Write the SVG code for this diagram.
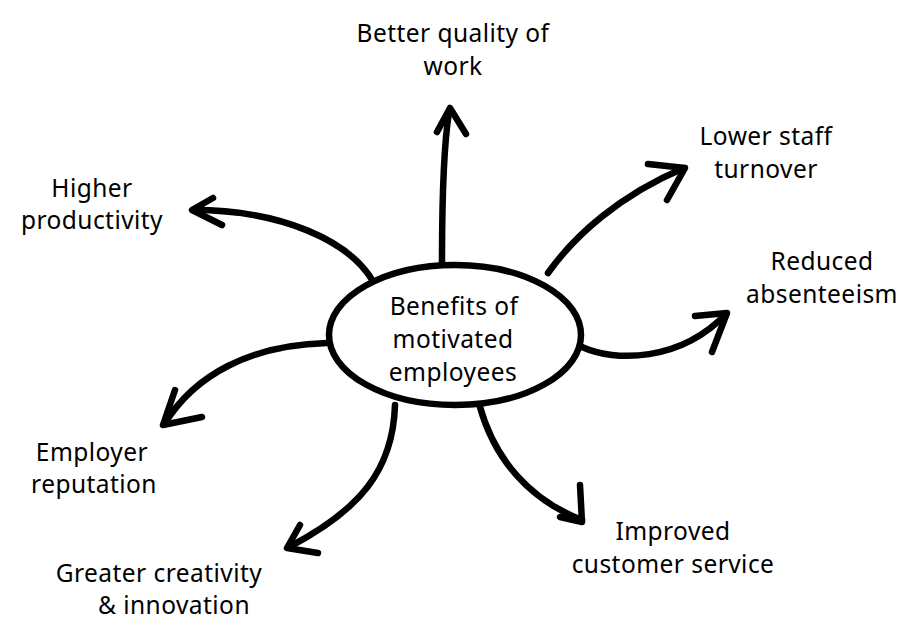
<svg xmlns="http://www.w3.org/2000/svg" width="911" height="630" viewBox="0 0 911 630">
<style>
.t{font-family:"Noto Sans","Open Sans","DejaVu Sans",sans-serif;font-size:24.5px;letter-spacing:0.45px;fill:#000;text-anchor:middle}
.c{fill:none;stroke:#000;stroke-width:6.5;stroke-linecap:round;stroke-linejoin:round}
</style>
<rect width="911" height="630" fill="#fff"/>
<g id="connectors">
<path class="c" d="M442 262 C442 200 443 150 449 112"/>
<path class="c" d="M437 132 L450 108 L466 134"/>
<path class="c" d="M548 273 C575 235 620 195 684 168"/>
<path class="c" d="M648 164 L685 168 L667 200"/>
<path class="c" d="M582 347 C615 362 680 362 726 314"/>
<path class="c" d="M695 316 L727 313 L712 352"/>
<path class="c" d="M480 407 C495 460 530 500 582 520"/>
<path class="c" d="M560 517 L582 522 L580 485"/>
<path class="c" d="M395 405 C393 470 360 510 289 547"/>
<path class="c" d="M300 525 L287 548 L318 553"/>
<path class="c" d="M327 343 C250 345 195 375 165 423"/>
<path class="c" d="M175 390 L163 425 L202 417"/>
<path class="c" d="M374 283 C350 240 280 210 193 210"/>
<path class="c" d="M213 198 L192 210 L222 225"/>
</g>
<g id="center">
<ellipse cx="455" cy="335" rx="126" ry="70" fill="#fff" stroke="#000" stroke-width="6.5"/>
<text class="t" x="454" y="315">Benefits of</text>
<text class="t" x="453" y="348">motivated</text>
<text class="t" x="453" y="381">employees</text>
</g>
<g id="n-quality"><text class="t" x="453" y="42">Better quality of</text><text class="t" x="453" y="75">work</text></g>
<g id="n-turnover"><text class="t" x="766" y="145">Lower staff</text><text class="t" x="766" y="178">turnover</text></g>
<g id="n-absent"><text class="t" x="822" y="270">Reduced</text><text class="t" x="822" y="303">absenteeism</text></g>
<g id="n-productivity"><text class="t" x="92" y="197">Higher</text><text class="t" x="92" y="229">productivity</text></g>
<g id="n-reputation"><text class="t" x="92" y="461">Employer</text><text class="t" x="94" y="493">reputation</text></g>
<g id="n-creativity"><text class="t" x="159" y="582">Greater creativity</text><text class="t" x="174" y="614">&amp; innovation</text></g>
<g id="n-service"><text class="t" x="673" y="540">Improved</text><text class="t" x="673" y="573">customer service</text></g>
</svg>
